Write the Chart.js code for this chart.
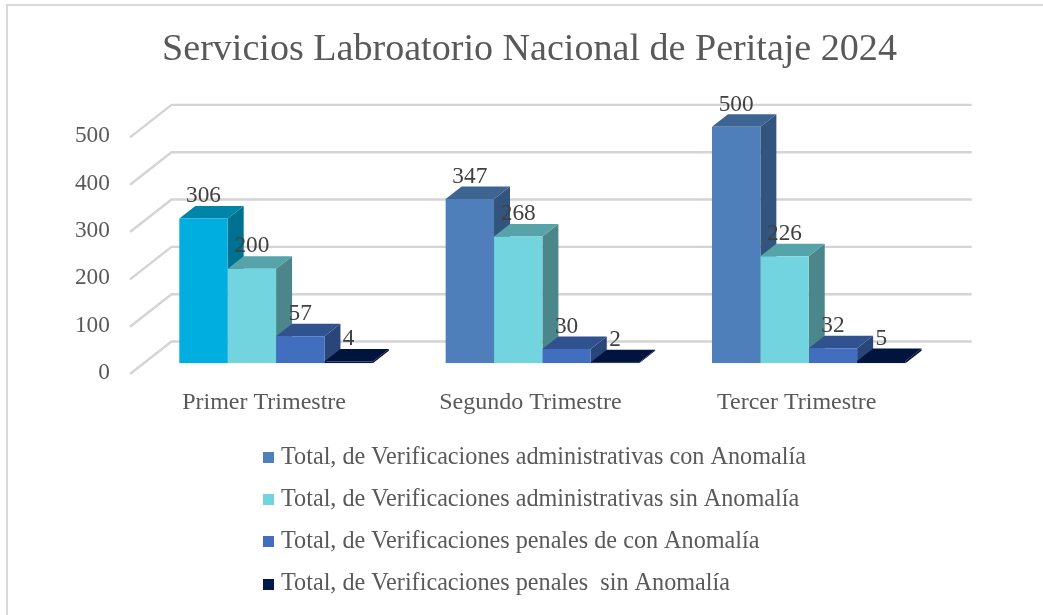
<!DOCTYPE html>
<html lang="es">
<head>
<meta charset="utf-8">
<style>html,body{margin:0;padding:0;background:#fff}canvas{display:block}</style>
<script src="https://cdn.jsdelivr.net/npm/chart.js@4"></script>
</head>
<body>
<canvas id="c" width="1043" height="615"></canvas>
<script>
const titleText = 'Servicios Labroatorio Nacional de Peritaje 2024';
const categories = ['Primer Trimestre', 'Segundo Trimestre', 'Tercer Trimestre'];
const seriesNames = [
  'Total, de Verificaciones administrativas con Anomalía',
  'Total, de Verificaciones administrativas sin Anomalía',
  'Total, de Verificaciones penales de con Anomalía',
  'Total, de Verificaciones penales  sin Anomalía'
];
const adminCon = [306, 347, 500];
const adminSin = [200, 268, 226];
const penalCon = [57, 30, 32];
const penalSin = [4, 2, 5];
const seriesValues = [adminCon, adminSin, penalCon, penalSin];
// face colours per series: front, top, side
const frontColors = ['#4E7FBB', '#72D4DE', '#416EBF', '#01184A'];
const topColors   = ['#3E6591', '#57A3AA', '#30528F', '#01143E'];
const sideColors  = ['#33547C', '#4B868B', '#2A457A', '#011035'];
// the first bar of the chart is recoloured in the reference
const firstBar = {front: '#00AEDF', top: '#0085A9', side: '#007190'};

const FONT = '"Liberation Serif", "Times New Roman", serif';
const DEPTH_X = 16, DEPTH_Y = 12.5;

function swatch(color) {
  const cv = document.createElement('canvas');
  cv.width = 11; cv.height = 11;
  const g = cv.getContext('2d');
  g.fillStyle = color; g.fillRect(0, 0, 11, 11);
  return cv;
}

const scene3d = {
  id: 'scene3d',
  beforeDraw(chart) {
    const {ctx, width, height} = chart;
    ctx.save();
    ctx.fillStyle = '#fff'; ctx.fillRect(0, 0, width, height);
    ctx.fillStyle = '#D9D9D9';
    ctx.fillRect(6, 4, 2, height - 4);
    ctx.fillRect(6, 4, width - 6, 2);
    ctx.restore();
  },
  afterLayout(chart) {
    const lg = chart.legend;
    lg.left = 250.6; lg.right = 1043; lg.top = 427;
    const tt = chart.titleBlock;
    tt.left = 16; tt.right = 1043;
  },
  beforeDatasetsDraw(chart) {
    const {ctx, scales: {x, y}} = chart;
    ctx.save();
    // walls: gridlines on the side wall and the back wall
    ctx.strokeStyle = '#D4D4D4';
    ctx.lineWidth = 2.4;
    y.ticks.forEach(t => {
      const p = y.getPixelForValue(t.value);
      ctx.beginPath();
      ctx.moveTo(x.left - 12.9, p + 10.7);
      ctx.lineTo(x.left + 28.6, p - 21.8);
      ctx.lineTo(x.right + 29.8, p - 21.8);
      ctx.stroke();
    });
    // depth faces of the bars
    chart.data.datasets.forEach((ds, di) => {
      chart.getDatasetMeta(di).data.forEach((bar, i) => {
        const first = di === 0 && i === 0;
        const l = bar.x - bar.width / 2, r = bar.x + bar.width / 2, t = bar.y, b = bar.base;
        ctx.fillStyle = first ? firstBar.side : sideColors[di];
        ctx.beginPath();
        ctx.moveTo(r, t); ctx.lineTo(r + DEPTH_X, t - DEPTH_Y);
        ctx.lineTo(r + DEPTH_X, b - DEPTH_Y); ctx.lineTo(r, b);
        ctx.closePath(); ctx.fill();
        ctx.fillStyle = first ? firstBar.top : topColors[di];
        ctx.beginPath();
        ctx.moveTo(l, t); ctx.lineTo(l + DEPTH_X, t - DEPTH_Y);
        ctx.lineTo(r + DEPTH_X, t - DEPTH_Y); ctx.lineTo(r, t);
        ctx.closePath(); ctx.fill();
      });
    });
    ctx.restore();
  },
  afterDatasetsDraw(chart) {
    const {ctx} = chart;
    ctx.save();
    ctx.font = '23.3px ' + FONT;
    ctx.fillStyle = '#404040';
    ctx.textAlign = 'center';
    ctx.textBaseline = 'middle';
    chart.data.datasets.forEach((ds, di) => {
      chart.getDatasetMeta(di).data.forEach((bar, i) => {
        ctx.fillText(String(ds.data[i]), bar.x, bar.y - 22.3);
      });
    });
    ctx.restore();
  }
};

new Chart(document.getElementById('c'), {
  type: 'bar',
  plugins: [scene3d],
  data: {
    labels: categories,
    datasets: seriesNames.map((name, di) => ({
      label: name,
      data: seriesValues[di],
      backgroundColor: seriesValues[di].map((v, i) => (di === 0 && i === 0) ? firstBar.front : frontColors[di]),
      borderWidth: 0,
      categoryPercentage: 0.7266,
      barPercentage: 1
    }))
  },
  options: {
    responsive: false,
    animation: false,
    layout: {padding: {left: 60, right: 101.1, top: 0, bottom: 0}},
    plugins: {
      tooltip: {enabled: false},
      title: {
        display: true,
        text: titleText,
        color: '#595959',
        font: {family: FONT, size: 38.1, weight: 'normal'},
        padding: {top: 27, bottom: 54}
      },
      legend: {
        display: true,
        position: 'bottom',
        align: 'start',
        labels: {
          color: '#595959',
          font: {family: FONT, size: 24.2},
          padding: 18.1,
          usePointStyle: true,
          pointStyleWidth: 0.2,
          boxHeight: 11,
          generateLabels: () => seriesNames.map((name, i) => ({
            text: name, pointStyle: swatch(frontColors[i]), fillStyle: frontColors[i],
            fontColor: '#595959', lineWidth: 0, hidden: false, datasetIndex: i
          }))
        }
      }
    },
    scales: {
      x: {
        grid: {display: false},
        border: {display: false},
        ticks: {
          color: '#595959',
          font: {family: FONT, size: 24},
          labelOffset: -12,
          padding: 17,
          maxRotation: 0
        },
        afterFit(s) { s.height = 615 - 363.3 - s.chart.legend.height; }
      },
      y: {
        min: 0,
        max: 500,
        grid: {display: false},
        border: {display: false},
        ticks: {
          stepSize: 100,
          color: '#595959',
          font: {family: FONT, size: 23.3},
          labelOffset: 9.5,
          padding: 25
        },
        afterFit(s) { s.width = 82.9; }
      }
    }
  }
});
</script>
</body>
</html>
